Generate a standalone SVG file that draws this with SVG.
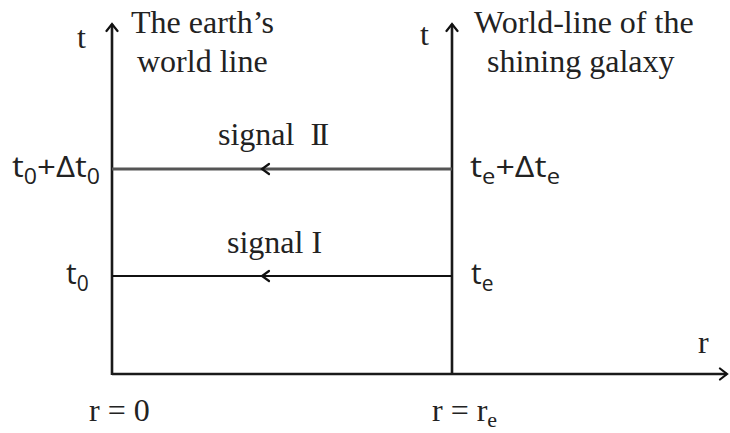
<svg xmlns="http://www.w3.org/2000/svg" width="730" height="433" viewBox="0 0 730 433">
<style>
.ser{font-family:"Liberation Serif","Times New Roman",serif;font-size:32px;fill:#222}
.san{font-family:"Open Sans","Liberation Sans",sans-serif;font-size:30px;fill:#222}
.sub{font-size:21px}
.ax{stroke:#1a1a1a;stroke-width:2.6;fill:none}
.sig{stroke:#111;stroke-width:2;fill:none}
.head{stroke:#111;stroke-width:2.2;fill:none;stroke-linecap:round;stroke-linejoin:miter}
</style>
<defs>
<marker id="ah" markerWidth="14" markerHeight="14" refX="10" refY="7" orient="auto" markerUnits="userSpaceOnUse">
<path d="M3,1.5 L10,7 L3,12.5" class="head"/>
</marker>
</defs>
<rect width="730" height="433" fill="#fff"/>
<g id="connectors">
<line id="t-axis-earth" class="ax" x1="112" y1="375" x2="112" y2="24" marker-end="url(#ah)"/>
<line id="t-axis-galaxy" class="ax" x1="452" y1="375" x2="452" y2="24" stroke="#2a2a2a" marker-end="url(#ah)"/>
<line id="r-axis" class="ax" x1="112" y1="374" x2="727" y2="374" marker-end="url(#ah)"/>
<line id="signal2" x1="452" y1="169" x2="112" y2="169" stroke="#555" stroke-width="3"/>
<line id="signal1" class="sig" x1="452" y1="276" x2="112" y2="276"/>
<path d="M269,164 L262,169 L269,174" class="head"/>
<path d="M269,271 L262,276 L269,281" class="head"/>
</g>
<g id="earth-labels">
<text class="ser" x="77" y="48">t</text>
<text class="ser" x="131" y="33">The earth’s</text>
<text class="ser" x="137" y="72">world line</text>
<text class="san" x="12" y="177" textLength="88" lengthAdjust="spacingAndGlyphs">t<tspan class="sub" dy="7">0</tspan><tspan dy="-7">+Δt</tspan><tspan class="sub" dy="7">0</tspan></text>
<text class="san" x="66" y="284">t<tspan class="sub" dy="7">0</tspan></text>
<text class="ser" x="89" y="421">r = 0</text>
</g>
<g id="galaxy-labels">
<text class="ser" x="420" y="45">t</text>
<text class="ser" x="474" y="33">World-line of the</text>
<text class="ser" x="487" y="72">shining galaxy</text>
<text class="san" x="470" y="177" textLength="90" lengthAdjust="spacingAndGlyphs">t<tspan class="sub" dy="7">e</tspan><tspan dy="-7">+Δt</tspan><tspan class="sub" dy="7">e</tspan></text>
<text class="san" x="471" y="284">t<tspan class="sub" dy="7">e</tspan></text>
<text class="ser" x="432" y="421">r = r<tspan font-size="22" dy="6">e</tspan></text>
</g>
<g id="signal-labels">
<text class="ser" x="218" y="145" xml:space="preserve">signal  <tspan letter-spacing="-2.5">II</tspan></text>
<text class="ser" x="227" y="253">signal I</text>
</g>
<g id="r-label">
<text class="ser" x="698" y="353">r</text>
</g>
</svg>
